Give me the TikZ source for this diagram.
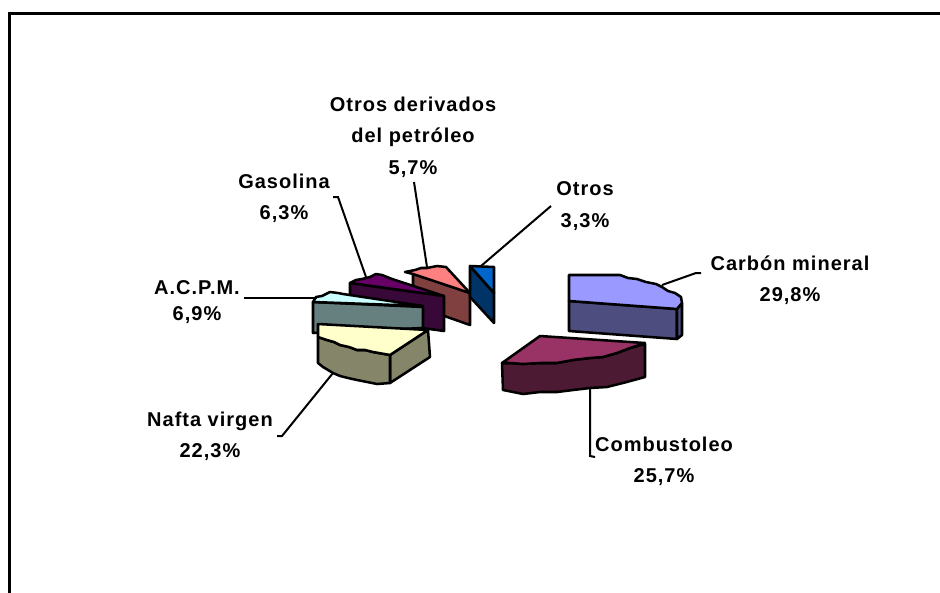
\documentclass[tikz,border=0pt]{standalone}
\usepackage{fontspec}
\setmainfont{Liberation Sans}
\newfontfamily\lblfont[LetterSpace=5]{Liberation Sans}
\usepackage{xcolor}
\definecolor{naftaTop}{HTML}{FFFFCC}
\definecolor{naftaSide}{HTML}{85856A}
\definecolor{acpmTop}{HTML}{CCFFFF}
\definecolor{acpmSide}{HTML}{668080}
\definecolor{gasTop}{HTML}{660066}
\definecolor{gasSide}{HTML}{380838}
\definecolor{derTop}{HTML}{FF8080}
\definecolor{derSide}{HTML}{804040}
\definecolor{otrTop}{HTML}{0066CC}
\definecolor{otrSide}{HTML}{003366}
\definecolor{carTop}{HTML}{9999FF}
\definecolor{carSide}{HTML}{4D4D80}
\definecolor{comTop}{HTML}{993366}
\definecolor{comSide}{HTML}{4D1A33}
\tikzset{
  slice/.style={draw=black, line width=1.9pt, line join=round},
  leader/.style={draw=black, line width=1.5pt},
  lbl/.style={font=\lblfont\fontsize{15}{23.5}\selectfont\bfseries, align=center, inner sep=0pt}
}

\begin{document}
\begin{tikzpicture}[x=0.75pt,y=0.75pt,yscale=-1,xscale=1]
            \useasboundingbox (0,0) rectangle (940,593);
            \clip (0,0) rectangle (940,593);
            \draw [line width=2.3pt]  (9.5,600) -- (9.5,13.5) -- (950,13.5) ;
            \draw [slice, fill=derSide]  (413,273) -- (470,293) -- (470,325) -- (413,305) -- cycle ;
            \draw [slice, fill=derTop]  (405,272) -- (415,270) -- (421,268) -- (427,268) -- (437,266) -- (446,267) -- (470,293) -- (413,274) -- cycle ;
            \draw [slice, fill=gasSide]  (350,283) -- (444,296) -- (444,331) -- (350,318) -- cycle ;
            \draw [slice, fill=gasTop]  (350,283) -- (356,280) -- (362,279) -- (370,277) -- (376,274) -- (382,275) -- (392,279) -- (444,296) -- cycle ;
            \draw [slice, fill=acpmSide]  (313,302) -- (423,307) -- (423,328) -- (313,333) -- cycle ;
            \draw [slice, fill=acpmTop]  (313,302) -- (316,297) -- (322,296) -- (330,292) -- (338,293) -- (343,294) -- (423,306) -- cycle ;
            \draw [slice, fill=naftaSide]  (390,355) -- (428,330) -- (430,357) -- (390,383) -- cycle ;
            \draw [slice, fill=naftaSide]  (318,337) -- (327,340) -- (334,342) -- (340,345) -- (349,347) -- (357,350) -- (365,350) -- (373,352) -- (390,355) -- (390,383) -- (377,384) -- (367,382) -- (357,380) -- (348,378) -- (340,376) -- (333,373) -- (323,367) -- (318,363) -- cycle ;
            \draw [slice, fill=naftaTop]  (318,324) -- (428,330) -- (390,355) -- (373,352) -- (365,350) -- (357,350) -- (349,347) -- (340,345) -- (334,342) -- (327,340) -- (318,337) -- cycle ;
            \draw [slice, fill=otrSide]  (470,266) -- (494,293) -- (494,323) -- (470,297) -- cycle ;
            \draw [slice, fill=otrTop]  (470,266) -- (494,267) -- (494,293) -- cycle ;
            \draw [slice, fill=carSide]  (569,301) -- (677,309) -- (677,339) -- (569,331) -- cycle ;
            \draw [slice, fill=carSide]  (677,309) -- (682,303) -- (682,335) -- (677,339) -- cycle ;
            \draw [slice, fill=carTop]  (569,275) -- (620,275) -- (628,278) -- (637,279) -- (646,282) -- (656,284) -- (662,287) -- (668,291) -- (675,293) -- (681,297) -- (682,303) -- (677,309) -- (569,301) -- cycle ;
            \draw [slice, fill=comSide]  (502,363) -- (510,363) -- (523,364) -- (540,363) -- (557,363) -- (573,360) -- (590,358) -- (603,357) -- (617,353) -- (630,348) -- (645,344) -- (645,377) -- (623,383) -- (607,387) -- (590,388) -- (573,390) -- (557,392) -- (540,392) -- (523,394) -- (503,390) -- cycle ;
            \draw [slice, fill=comTop]  (540,336) -- (645,343) -- (630,348) -- (617,353) -- (603,357) -- (590,358) -- (573,360) -- (557,363) -- (540,363) -- (523,364) -- (510,363) -- (502,363) -- cycle ;
            \node (lblDer) at (413,137) [lbl] {Otros derivados\\del petróleo\\5,7\%};
            \node (lblGas) at (284,198) [lbl] {Gasolina\\6,3\%};
            \node (lblOtr) at (585,206) [lbl] {Otros\\3,3\%};
            \node (lblCar) at (790,280) [lbl] {Carbón mineral\\29,8\%};
            \node (lblAcpm) at (197,302) [lbl, font=\lblfont\fontsize{15}{20}\selectfont\bfseries] {A.C.P.M.\\6,9\%};
            \node (lblNaf) at (210,436) [lbl] {Nafta virgen\\22,3\%};
            \node (lblCom) at (664,461) [lbl] {Combustoleo\\25,7\%};
            \coordinate (derTip) at (427,267);
            \coordinate (gasTip) at (366,277);
            \coordinate (otrTip) at (481,266);
            \coordinate (carTip) at (662,285);
            \coordinate (acpmTip) at (317,298);
            \coordinate (nafTip) at (333,373);
            \coordinate (comTip) at (590,388);
            \draw [leader]  (414,182) -- (derTip) ;
            \draw [leader]  (333,197) -- (338,197) -- (gasTip) ;
            \draw [leader]  (551,206) -- (otrTip) ;
            \draw [leader]  (701,273) -- (696,273) -- (carTip) ;
            \draw [leader]  (244,298) -- (acpmTip) ;
            \draw [leader]  (277,436) -- (282,436) -- (nafTip) ;
            \draw [leader]  (595,457) -- (590,456) -- (comTip) ;
        \end{tikzpicture}
\end{document}
